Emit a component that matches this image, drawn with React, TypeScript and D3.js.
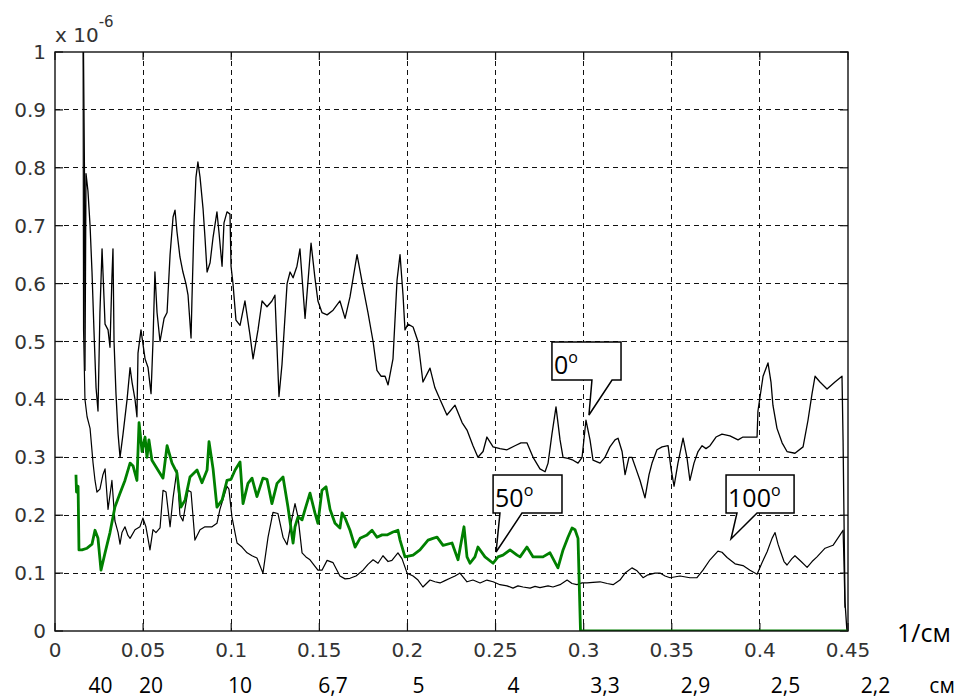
import { useEffect, useRef } from "react";
import * as d3 from "d3";

// spectra: [1/cm, amplitude x 1e-6]
const SPEC_0DEG: [number, number][] = [
  [0.0159, 1.1], [0.0167, 0.8], [0.017, 0.45], [0.0176, 0.79], [0.0187, 0.76], [0.0199, 0.7],
  [0.021, 0.62], [0.0221, 0.52], [0.0233, 0.42], [0.0244, 0.38], [0.0255, 0.55], [0.0267, 0.66],
  [0.0284, 0.53], [0.0301, 0.52], [0.0312, 0.49], [0.0323, 0.61], [0.0329, 0.66], [0.0335, 0.5],
  [0.0346, 0.41], [0.0358, 0.34], [0.0369, 0.3], [0.0386, 0.34], [0.0409, 0.4], [0.0426, 0.455],
  [0.0437, 0.43], [0.0454, 0.4], [0.0465, 0.37], [0.0471, 0.48], [0.0488, 0.52], [0.0511, 0.47],
  [0.0528, 0.455], [0.0545, 0.41], [0.0556, 0.5], [0.0567, 0.62], [0.0579, 0.55], [0.0596, 0.5],
  [0.0619, 0.54], [0.0636, 0.55], [0.0641, 0.58], [0.0653, 0.65], [0.067, 0.715], [0.0681, 0.727],
  [0.0692, 0.69], [0.0709, 0.646], [0.0726, 0.62], [0.0743, 0.6], [0.0755, 0.58], [0.0772, 0.506],
  [0.0777, 0.57], [0.0789, 0.705], [0.08, 0.784], [0.0811, 0.81], [0.0823, 0.784], [0.084, 0.73],
  [0.0851, 0.68], [0.0863, 0.62], [0.088, 0.636], [0.0897, 0.68], [0.0919, 0.724], [0.0931, 0.687],
  [0.0948, 0.63], [0.0959, 0.705], [0.0976, 0.724], [0.0993, 0.72], [0.0999, 0.63], [0.101, 0.6],
  [0.1027, 0.537], [0.105, 0.528], [0.1078, 0.57], [0.1107, 0.51], [0.1124, 0.47], [0.1152, 0.52],
  [0.1175, 0.57], [0.1203, 0.56], [0.1231, 0.57], [0.1248, 0.58], [0.1271, 0.405], [0.1288, 0.46],
  [0.1317, 0.6], [0.1334, 0.62], [0.1351, 0.61], [0.1373, 0.63], [0.139, 0.66], [0.1419, 0.54],
  [0.1453, 0.67], [0.1475, 0.61], [0.1492, 0.57], [0.1515, 0.55], [0.1544, 0.546], [0.1578, 0.554],
  [0.1617, 0.57], [0.1646, 0.54], [0.1674, 0.577], [0.1714, 0.65], [0.1748, 0.594], [0.1776, 0.55],
  [0.1805, 0.5], [0.1827, 0.45], [0.185, 0.44], [0.1873, 0.44], [0.189, 0.425], [0.1918, 0.47],
  [0.1941, 0.606], [0.1958, 0.65], [0.1975, 0.58], [0.1986, 0.52], [0.2003, 0.53], [0.2032, 0.525],
  [0.206, 0.5], [0.2088, 0.43], [0.2128, 0.454], [0.2156, 0.42], [0.2185, 0.4], [0.2224, 0.373],
  [0.227, 0.39], [0.231, 0.36], [0.2338, 0.347], [0.2372, 0.32], [0.24, 0.3], [0.2429, 0.31],
  [0.2451, 0.335], [0.2486, 0.318], [0.2525, 0.315], [0.2565, 0.313], [0.261, 0.32], [0.2644, 0.325],
  [0.2678, 0.325], [0.2713, 0.3], [0.2752, 0.28], [0.2781, 0.275], [0.2798, 0.29], [0.282, 0.34],
  [0.2843, 0.387], [0.2866, 0.33], [0.2883, 0.3], [0.2911, 0.298], [0.294, 0.295], [0.2968, 0.29],
  [0.2991, 0.3], [0.3013, 0.364], [0.3036, 0.33], [0.3053, 0.295], [0.3093, 0.29], [0.3121, 0.3],
  [0.3149, 0.318], [0.3178, 0.33], [0.3195, 0.333], [0.3218, 0.31], [0.3235, 0.27], [0.3257, 0.3],
  [0.3274, 0.3], [0.3297, 0.28], [0.332, 0.26], [0.3348, 0.23], [0.3371, 0.27], [0.3388, 0.29],
  [0.3416, 0.313], [0.3445, 0.318], [0.3479, 0.32], [0.3496, 0.28], [0.3513, 0.25], [0.3535, 0.29],
  [0.3564, 0.333], [0.3586, 0.3], [0.3603, 0.26], [0.3626, 0.29], [0.3649, 0.31], [0.3672, 0.32],
  [0.3694, 0.315], [0.3717, 0.32], [0.3751, 0.335], [0.3785, 0.34], [0.383, 0.337], [0.3876, 0.33],
  [0.3904, 0.335], [0.3944, 0.335], [0.3984, 0.335], [0.3989, 0.38], [0.4018, 0.44], [0.4046, 0.463],
  [0.4063, 0.43], [0.4074, 0.39], [0.4097, 0.35], [0.4126, 0.325], [0.4154, 0.31], [0.4199, 0.307],
  [0.4245, 0.318], [0.4273, 0.364], [0.4296, 0.41], [0.4313, 0.44], [0.4341, 0.43], [0.4381, 0.418],
  [0.4426, 0.43], [0.4466, 0.44], [0.4472, 0.33], [0.4483, 0.05], [0.4494, 0.0],
];

const SPEC_100DEG: [number, number][] = [
  [0.0159, 1.1], [0.0162, 0.52], [0.017, 0.4], [0.0182, 0.37], [0.0199, 0.35], [0.0216, 0.29],
  [0.0227, 0.26], [0.0238, 0.24], [0.0255, 0.245], [0.0272, 0.27], [0.0284, 0.28], [0.0301, 0.21],
  [0.0323, 0.26], [0.034, 0.19], [0.0358, 0.17], [0.0369, 0.15], [0.038, 0.17], [0.0397, 0.18],
  [0.0414, 0.165], [0.0426, 0.16], [0.0454, 0.175], [0.0482, 0.18], [0.0499, 0.195], [0.0516, 0.18],
  [0.0539, 0.14], [0.0556, 0.175], [0.0573, 0.17], [0.0596, 0.178], [0.0613, 0.243], [0.063, 0.24],
  [0.0653, 0.18], [0.067, 0.23], [0.0692, 0.278], [0.0709, 0.2], [0.0726, 0.19], [0.0755, 0.243],
  [0.0772, 0.24], [0.0794, 0.157], [0.0823, 0.175], [0.0851, 0.18], [0.0891, 0.18], [0.0919, 0.186],
  [0.0936, 0.21], [0.0976, 0.25], [0.0987, 0.245], [0.1004, 0.197], [0.1033, 0.152], [0.1061, 0.145],
  [0.109, 0.135], [0.1118, 0.13], [0.1146, 0.126], [0.118, 0.1], [0.1209, 0.162], [0.1237, 0.205],
  [0.1265, 0.203], [0.1294, 0.162], [0.1317, 0.149], [0.1345, 0.195], [0.1362, 0.22], [0.1379, 0.197],
  [0.1402, 0.135], [0.1424, 0.128], [0.1447, 0.123], [0.1492, 0.105], [0.1515, 0.105], [0.1544, 0.122],
  [0.1578, 0.118], [0.1617, 0.095], [0.1646, 0.09], [0.1674, 0.091], [0.1708, 0.095], [0.1748, 0.105],
  [0.1776, 0.115], [0.1805, 0.123], [0.1833, 0.117], [0.1861, 0.13], [0.189, 0.12], [0.1912, 0.122],
  [0.1946, 0.135], [0.1969, 0.125], [0.1998, 0.1], [0.2032, 0.095], [0.206, 0.088], [0.2088, 0.076],
  [0.2128, 0.088], [0.2156, 0.085], [0.2185, 0.083], [0.2213, 0.087], [0.2242, 0.091], [0.227, 0.095],
  [0.2298, 0.1], [0.2338, 0.085], [0.2372, 0.088], [0.2412, 0.083], [0.2451, 0.088], [0.2486, 0.085],
  [0.2525, 0.08], [0.2565, 0.078], [0.2599, 0.074], [0.2627, 0.078], [0.2656, 0.076], [0.2696, 0.074],
  [0.2724, 0.077], [0.2752, 0.075], [0.2798, 0.078], [0.2826, 0.076], [0.2866, 0.08], [0.2906, 0.088],
  [0.2934, 0.082], [0.2962, 0.08], [0.2991, 0.083], [0.3019, 0.083], [0.3053, 0.084], [0.3093, 0.085],
  [0.3133, 0.082], [0.3167, 0.08], [0.3206, 0.088], [0.3235, 0.1], [0.3274, 0.109], [0.3303, 0.104],
  [0.3337, 0.092], [0.3365, 0.097], [0.3405, 0.1], [0.3433, 0.1], [0.3462, 0.095], [0.349, 0.092],
  [0.3547, 0.095], [0.3603, 0.092], [0.3643, 0.092], [0.3677, 0.105], [0.3717, 0.123], [0.3762, 0.138],
  [0.3785, 0.136], [0.3814, 0.127], [0.3859, 0.116], [0.3904, 0.113], [0.3944, 0.105], [0.3984, 0.098],
  [0.4012, 0.118], [0.4041, 0.137], [0.4069, 0.16], [0.4086, 0.17], [0.4103, 0.15], [0.4114, 0.14],
  [0.4137, 0.12], [0.4154, 0.114], [0.4182, 0.125], [0.4199, 0.13], [0.4234, 0.12], [0.4268, 0.11],
  [0.4296, 0.12], [0.4324, 0.128], [0.437, 0.143], [0.4415, 0.148], [0.4455, 0.166], [0.4472, 0.174],
  [0.4477, 0.12], [0.4483, 0.04],
];

const SPEC_50DEG: [number, number][] = [
  [0.0119, 0.27], [0.0122, 0.24], [0.0131, 0.25], [0.0136, 0.14], [0.0153, 0.14], [0.0182, 0.143],
  [0.021, 0.15], [0.0227, 0.174], [0.0244, 0.16], [0.0261, 0.105], [0.0284, 0.135], [0.0312, 0.17],
  [0.034, 0.214], [0.0369, 0.238], [0.0397, 0.26], [0.0426, 0.29], [0.0443, 0.285], [0.0465, 0.26],
  [0.0477, 0.36], [0.0494, 0.31], [0.0511, 0.335], [0.0522, 0.3], [0.0533, 0.33], [0.055, 0.295],
  [0.0584, 0.278], [0.0613, 0.264], [0.0636, 0.32], [0.0664, 0.29], [0.0692, 0.273], [0.0715, 0.214],
  [0.0738, 0.226], [0.0766, 0.266], [0.0806, 0.278], [0.0834, 0.256], [0.0863, 0.278], [0.0874, 0.327],
  [0.0897, 0.28], [0.0919, 0.214], [0.0948, 0.226], [0.0976, 0.26], [0.0999, 0.262], [0.1022, 0.278],
  [0.105, 0.292], [0.1067, 0.22], [0.1095, 0.255], [0.1118, 0.264], [0.1146, 0.232], [0.118, 0.264],
  [0.1203, 0.262], [0.1231, 0.22], [0.126, 0.255], [0.1294, 0.266], [0.1322, 0.214], [0.1351, 0.152],
  [0.1362, 0.18], [0.1379, 0.197], [0.1402, 0.192], [0.1419, 0.21], [0.1447, 0.238], [0.1475, 0.204],
  [0.1492, 0.186], [0.1515, 0.243], [0.1538, 0.249], [0.1561, 0.21], [0.1589, 0.186], [0.1617, 0.178],
  [0.1629, 0.204], [0.1646, 0.195], [0.1674, 0.174], [0.1703, 0.145], [0.1731, 0.16], [0.1771, 0.166],
  [0.1799, 0.174], [0.1827, 0.162], [0.1856, 0.166], [0.1884, 0.166], [0.1918, 0.171], [0.1946, 0.174],
  [0.1958, 0.157], [0.1986, 0.128], [0.2032, 0.131], [0.2071, 0.14], [0.2117, 0.157], [0.2145, 0.16],
  [0.2168, 0.162], [0.2202, 0.148], [0.2253, 0.152], [0.2287, 0.123], [0.2321, 0.18], [0.2338, 0.128],
  [0.2355, 0.117], [0.2383, 0.128], [0.24, 0.145], [0.244, 0.128], [0.2486, 0.117], [0.2514, 0.128],
  [0.2542, 0.131], [0.2582, 0.14], [0.2622, 0.131], [0.2639, 0.128], [0.2678, 0.145], [0.2713, 0.128],
  [0.2769, 0.128], [0.2809, 0.135], [0.2854, 0.109], [0.2883, 0.14], [0.2911, 0.162], [0.2934, 0.178],
  [0.2951, 0.175], [0.2968, 0.16], [0.2982, 0.0], [0.45, 0.0],
];

const X_TICKS = [0, 0.05, 0.1, 0.15, 0.2, 0.25, 0.3, 0.35, 0.4, 0.45];
const Y_TICKS = [0, 0.1, 0.2, 0.3, 0.4, 0.5, 0.6, 0.7, 0.8, 0.9, 1];

// wavelength row under the axis (label text, where its centre sits in 1/cm)
const WAVE_LABELS = ["40", "20", "10", "6,7", "5", "4", "3,3", "2,9", "2,5", "2,2", "см"];
const WAVE_POS = [0.0258, 0.0545, 0.105, 0.1578, 0.2063, 0.2602, 0.3121, 0.3635, 0.4145, 0.4656, 0.5034];

// speech bubbles: angle, box [x0, x1, yTop, yBottom], tail base [xl, xr], tip [x, y]
const CALLOUT_TEXT = ["0", "50", "100"];
const CALLOUT_BOX = [
  [0.282, 0.3212, 0.4991, 0.4335],
  [0.2486, 0.2877, 0.2694, 0.2038],
  [0.3808, 0.4194, 0.2694, 0.2038],
];
const CALLOUT_TAIL = [[0.3047, 0.3161], [0.2525, 0.265], [0.387, 0.3984]];
const CALLOUT_TIP = [[0.303, 0.373], [0.2503, 0.1364], [0.3836, 0.1589]];

const W = 960;
const H = 698;
const AXIS_FONT = "'DejaVu Sans', sans-serif";
const DOC_FONT = "'Open Sans', 'Noto Sans', sans-serif";

export default function App() {
  const svgRef = useRef<SVGSVGElement>(null);

  useEffect(() => {
    const svg = d3.select(svgRef.current);
    svg.selectAll("*").remove();

    const x = d3.scaleLinear().domain([0, 0.45]).range([55, 848]);
    const y = d3.scaleLinear().domain([0, 1]).range([631, 52]);
    const [x0, x1] = x.range();
    const [y0, y1] = y.range();

    svg.append("rect").attr("width", W).attr("height", H).attr("fill", "#fff");

    // ----- grid -----
    const grid = svg.append("g")
      .attr("stroke", "#111")
      .attr("stroke-width", 1)
      .attr("stroke-dasharray", "5,4");
    X_TICKS.slice(1, -1).forEach((t) => {
      grid.append("line")
        .attr("x1", x(t)).attr("x2", x(t))
        .attr("y1", y1).attr("y2", y0)
        .attr("shape-rendering", "crispEdges");
    });
    Y_TICKS.slice(1, -1).forEach((t) => {
      grid.append("line")
        .attr("x1", x0).attr("x2", x1)
        .attr("y1", y(t)).attr("y2", y(t))
        .attr("shape-rendering", "crispEdges");
    });

    // ----- ticks (inside, all four sides) -----
    const ticks = svg.append("g").attr("stroke", "#111").attr("stroke-width", 1.2);
    const TL = 8;
    X_TICKS.forEach((t) => {
      ticks.append("line").attr("x1", x(t)).attr("x2", x(t)).attr("y1", y0).attr("y2", y0 - TL);
      ticks.append("line").attr("x1", x(t)).attr("x2", x(t)).attr("y1", y1).attr("y2", y1 + TL);
    });
    Y_TICKS.forEach((t) => {
      ticks.append("line").attr("x1", x0).attr("x2", x0 + TL).attr("y1", y(t)).attr("y2", y(t));
      ticks.append("line").attr("x1", x1).attr("x2", x1 - TL).attr("y1", y(t)).attr("y2", y(t));
    });

    // ----- lines -----
    svg.append("defs").append("clipPath")
      .attr("id", "plot-clip")
      .append("rect")
      .attr("x", x0).attr("y", y1)
      .attr("width", x1 - x0).attr("height", y0 - y1);

    const linesG = svg.append("g").attr("clip-path", "url(#plot-clip)");
    const line = d3.line<[number, number]>()
      .x((d) => x(d[0]))
      .y((d) => y(d[1]));

    linesG.append("path").datum(SPEC_0DEG)
      .attr("fill", "none").attr("stroke", "#000").attr("stroke-width", 1.3)
      .attr("stroke-linejoin", "round").attr("d", line);
    linesG.append("path").datum(SPEC_100DEG)
      .attr("fill", "none").attr("stroke", "#000").attr("stroke-width", 1.2)
      .attr("stroke-linejoin", "round").attr("d", line);
    linesG.append("path").datum(SPEC_50DEG)
      .attr("fill", "none").attr("stroke", "#008000").attr("stroke-width", 2.8)
      .attr("stroke-linejoin", "round").attr("d", line);

    // ----- axes box -----
    svg.append("rect")
      .attr("x", x0).attr("y", y1)
      .attr("width", x1 - x0).attr("height", y0 - y1)
      .attr("fill", "none").attr("stroke", "#111").attr("stroke-width", 1.4);

    // ----- tick labels -----
    const fmt = (v: number) => String(+v.toFixed(2));
    svg.append("g").selectAll("text").data(X_TICKS).join("text")
      .attr("x", (d) => x(d))
      .attr("y", 657)
      .attr("text-anchor", "middle")
      .attr("font-family", AXIS_FONT)
      .attr("font-size", 20)
      .attr("fill", "#333")
      .text(fmt);
    svg.append("g").selectAll("text").data(Y_TICKS).join("text")
      .attr("x", 46)
      .attr("y", (d) => y(d) + 7)
      .attr("text-anchor", "end")
      .attr("font-family", AXIS_FONT)
      .attr("font-size", 20)
      .attr("fill", "#333")
      .text(fmt);

    // exponent
    const expo = svg.append("text")
      .attr("x", 55).attr("y", 42)
      .attr("font-family", AXIS_FONT)
      .attr("font-size", 20)
      .attr("fill", "#333");
    expo.append("tspan").text("x 10");
    expo.append("tspan").attr("dy", -15).attr("font-size", 15).text("-6");

    // ----- unit labels -----
    svg.append("text")
      .attr("x", 897).attr("y", 642)
      .attr("font-family", DOC_FONT)
      .attr("font-size", 25)
      .attr("fill", "#000")
      .text("1/см");

    svg.append("g").selectAll("text").data(WAVE_LABELS).join("text")
      .attr("x", (_, i) => x(WAVE_POS[i]))
      .attr("y", 693)
      .attr("text-anchor", "middle")
      .attr("font-family", DOC_FONT)
      .attr("font-size", 21)
      .attr("fill", "#000")
      .text((d) => d);

    // ----- callouts -----
    CALLOUT_TEXT.forEach((label, i) => {
      const [bx0, bx1, byT, byB] = CALLOUT_BOX[i];
      const [tl, tr] = CALLOUT_TAIL[i];
      const [tx, ty] = CALLOUT_TIP[i];
      const pts: [number, number][] = [
        [x(bx0), y(byT)], [x(bx1), y(byT)], [x(bx1), y(byB)],
        [x(tr), y(byB)], [x(tx), y(ty)], [x(tl), y(byB)], [x(bx0), y(byB)],
      ];
      const g = svg.append("g");
      g.append("path")
        .attr("d", "M" + pts.map((p) => p.join(",")).join("L") + "Z")
        .attr("fill", "#fff")
        .attr("stroke", "#000")
        .attr("stroke-width", 1.5)
        .attr("stroke-linejoin", "miter");
      const t = g.append("text")
        .attr("x", x(bx0) + 2)
        .attr("y", y(byT) + 32)
        .attr("font-family", DOC_FONT)
        .attr("font-size", 25)
        .attr("fill", "#000");
      t.append("tspan").text(label);
      t.append("tspan").attr("dy", -11).attr("font-size", 16).text("o");
    });
  }, []);

  return (
    <svg
      ref={svgRef}
      width={W}
      height={H}
      style={{ position: "absolute", left: 0, top: 0, display: "block" }}
    />
  );
}
